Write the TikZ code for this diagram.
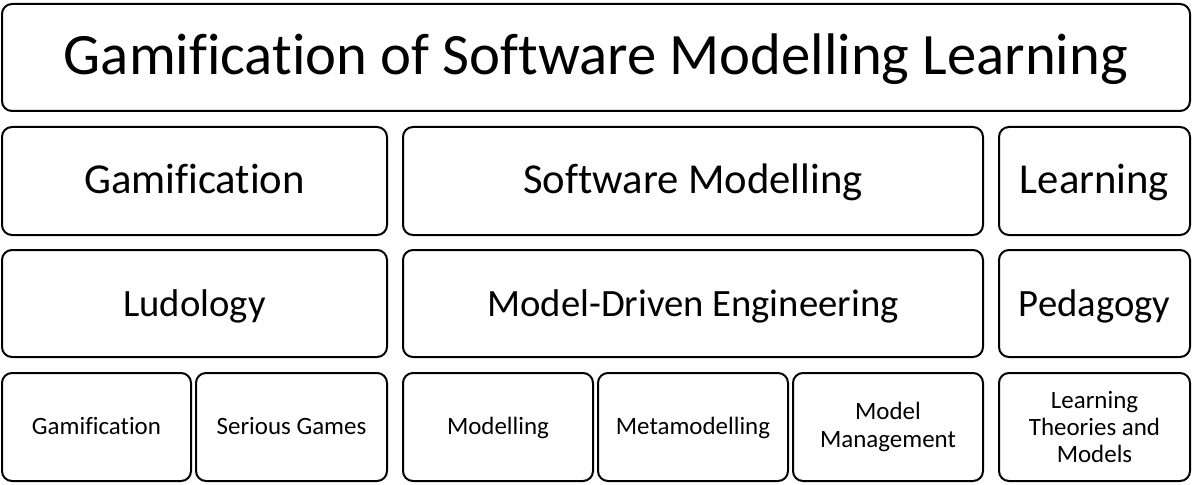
\documentclass[tikz,border=0pt]{standalone}
\usepackage{fontspec}
\setmainfont{Carlito}[Ligatures=NoCommon]
\usetikzlibrary{positioning}

\begin{document}
\begin{tikzpicture}[x=0.75pt, y=-0.75pt,
        box/.style 2 args={rectangle, rounded corners=7.5pt, draw=black, line width=1.5pt,
                    minimum width=#1*0.75pt, minimum height=#2*0.75pt, align=center,
                    inner sep=0pt},
        big/.style={text height=36pt, text depth=11pt, font=\fontsize{44}{50}\selectfont},
        mid/.style={text height=27pt, text depth=8pt, font=\fontsize{32}{38}\selectfont},
        lower/.style={text height=26.25pt, text depth=7.25pt, font=\fontsize{29}{34}\selectfont},
        small/.style={font=\fontsize{18.7}{20.3}\selectfont},
        oneline/.style={text height=15.5pt, text depth=4.7pt}
      ]
        \useasboundingbox (0,0) rectangle (1197,485);

        % title
        \node[box={1188}{107}, big] (title) at (596,57.5) {Gamification of Software Modelling Learning};

        % areas
        \node[box={385}{108}, mid] (gam) at (194.5,181) {Gamification};
        \node[box={580}{108}, mid] (swm) at (693,181) {Software Modelling};
        \node[box={191}{108}, mid] (lrn) at (1094.5,181) {Learning};

        % fields
        \node[box={385}{107}, lower] (ludo) at (194.5,303.5) {Ludology};
        \node[box={580}{107}, lower] (mde) at (693,303.5) {Model-Driven Engineering};
        \node[box={191}{107}, lower] (peda) at (1094.5,303.5) {Pedagogy};

        % topics
        \node[box={189}{108}, small, oneline] (gamt) at (96.5,427) {Gamification};
        \node[box={191}{108}, small, oneline] (sg) at (291.5,427) {Serious Games};
        \node[box={190}{108}, small, oneline] (mod) at (498,427) {Modelling};
        \node[box={190}{108}, small, oneline] (meta) at (693,427) {Metamodelling};
        \node[box={190}{108}, small] (mm) at (888,427) {Model\\Management};
        \node[box={191}{108}, small] (ltm) at (1094.5,427) {Learning\\Theories and\\Models};
      \end{tikzpicture}
\end{document}
